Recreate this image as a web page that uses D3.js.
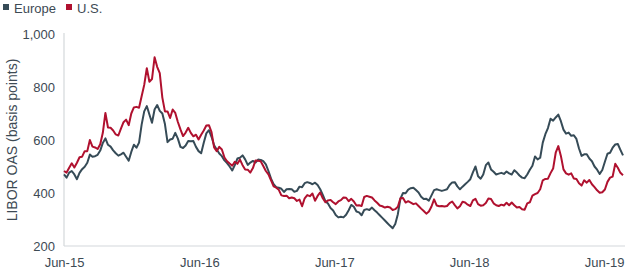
<!DOCTYPE html>
<html>
<head>
<meta charset="utf-8">
<script src="https://cdn.jsdelivr.net/npm/d3@7"></script>
<style>
  body { margin: 0; background: #fff; }
  svg text { font-family: "Liberation Sans", Arial, sans-serif; fill: #3d4a54; }
</style>
</head>
<body>
<div id="chart"></div>
<script>
// Weekly LIBOR OAS, basis points, first week of June 2015 onward
const startDate = new Date(2015, 5, 1);

const europe = [
  470,458,477,483,470,452,476,490,499,514,
  545,537,539,544,560,589,606,582,575,561,
  550,541,546,552,537,522,555,582,571,590,
  658,708,728,696,665,715,732,710,700,660,
  592,602,605,627,605,574,570,579,596,595,
  596,574,558,550,590,625,637,612,580,564,
  549,539,523,513,500,485,505,530,533,542,
  527,506,515,521,515,526,525,520,508,483,
  454,433,422,420,416,404,414,415,414,405,
  408,424,422,437,441,438,433,439,430,414,
  393,369,360,343,334,317,308,310,308,318,
  335,355,348,330,327,316,336,339,336,345,
  335,326,316,306,296,286,276,267,283,320,
  379,400,399,413,418,420,411,402,386,377,
  378,371,391,411,414,411,408,411,414,430,
  440,441,425,414,424,433,442,452,478,500,
  463,454,470,505,515,489,480,470,473,476,
  472,481,474,470,486,477,466,458,456,470,
  488,503,538,527,533,590,622,645,680,673,
  685,696,671,639,624,628,616,618,604,568,
  540,546,546,530,520,500,488,472,487,518,
  548,552,571,583,585,563,542
];

const us = [
  483,477,495,512,496,514,535,537,558,558,
  600,575,572,566,584,627,702,647,646,636,
  621,617,643,667,677,656,700,723,725,722,
  765,808,871,820,830,912,876,852,760,708,
  708,683,715,702,668,640,615,628,646,627,
  614,620,602,620,636,655,656,630,572,558,
  574,564,534,520,511,503,518,510,526,505,
  489,488,477,494,523,522,520,502,483,470,
  448,425,420,412,391,389,390,380,383,380,
  370,375,350,380,392,388,398,371,389,402,
  380,365,372,374,365,358,368,373,383,382,
  369,378,368,353,354,351,385,389,386,383,
  372,363,353,350,345,348,345,336,339,348,
  380,381,364,369,364,358,361,351,341,332,
  322,330,349,376,353,350,351,349,351,362,
  368,354,342,350,367,364,356,351,372,378,
  358,352,354,362,379,377,361,354,351,356,
  353,363,354,364,354,345,347,339,337,361,
  365,390,396,400,414,448,453,454,475,492,
  552,577,540,489,474,469,474,455,453,437,
  428,448,439,449,433,422,410,401,403,413,
  442,458,462,510,495,476,467
];

const yTicks = [200, 400, 600, 800, 1000];
const xTickDates = [2015, 2016, 2017, 2018, 2019].map(y => new Date(y, 5, 1));
const seriesNames = ["Europe", "U.S."];
const colors = { "Europe": "#364b57", "U.S.": "#b0112f" };

function drawChart() {
    const width = 636, height = 271;
    const margin = { top: 34, right: 13, bottom: 25, left: 64 };

    const svg = d3.select("#chart").append("svg")
        .attr("width", width)
        .attr("height", height);

    const dates = d3.range(europe.length).map(i => d3.timeDay.offset(startDate, 7 * i));

    const x = d3.scaleTime()
        .domain([dates[0], dates[dates.length - 1]])
        .range([margin.left, width - margin.right]);

    const y = d3.scaleLinear()
        .domain([200, 1000])
        .range([height - margin.bottom, margin.top]);

    // axis lines
    svg.append("line")
        .attr("x1", margin.left).attr("x2", margin.left)
        .attr("y1", y(1000) - 1).attr("y2", y(200))
        .attr("stroke", "#d4d8db").attr("stroke-width", 1.2);
    svg.append("line")
        .attr("x1", margin.left).attr("x2", width - 11)
        .attr("y1", y(200)).attr("y2", y(200))
        .attr("stroke", "#d4d8db").attr("stroke-width", 1.2);

    // y axis labels
    const yAxis = d3.axisLeft(y)
        .tickValues(yTicks)
        .tickFormat(d3.format(","))
        .tickSize(0)
        .tickPadding(9);
    const gy = svg.append("g")
        .attr("transform", `translate(${margin.left}, 0)`)
        .call(yAxis);
    gy.select(".domain").remove();
    gy.selectAll("text").style("font-size", "13px");

    // x axis labels
    const xAxis = d3.axisBottom(x)
        .tickValues(xTickDates)
        .tickFormat(d3.timeFormat("%b-%y"))
        .tickSize(0)
        .tickPadding(12);
    const gx = svg.append("g")
        .attr("transform", `translate(0, ${y(200)})`)
        .call(xAxis);
    gx.select(".domain").remove();
    gx.selectAll("text").style("font-size", "13px");

    // y axis title
    svg.append("text")
        .attr("transform", "rotate(-90)")
        .attr("x", -140)
        .attr("y", 17)
        .style("text-anchor", "middle")
        .style("font-size", "14px")
        .text("LIBOR OAS (basis points)");

    // lines
    const line = d3.line()
        .x((d, i) => x(dates[i]))
        .y(d => y(d));

    [["Europe", europe], ["U.S.", us]].forEach(([name, values]) => {
        svg.append("path")
            .datum(values)
            .attr("fill", "none")
            .attr("stroke", colors[name])
            .attr("stroke-width", 2)
            .attr("stroke-linejoin", "round")
            .attr("d", line);
    });

    // legend
    const legendX = [3, 66];
    seriesNames.forEach((name, i) => {
        svg.append("rect")
            .attr("x", legendX[i]).attr("y", 4)
            .attr("width", 6).attr("height", 6)
            .attr("fill", colors[name]);
        svg.append("text")
            .attr("x", legendX[i] + 11).attr("y", 13)
            .style("font-size", "13px")
            .text(name);
    });
}

drawChart();
</script>
</body>
</html>
